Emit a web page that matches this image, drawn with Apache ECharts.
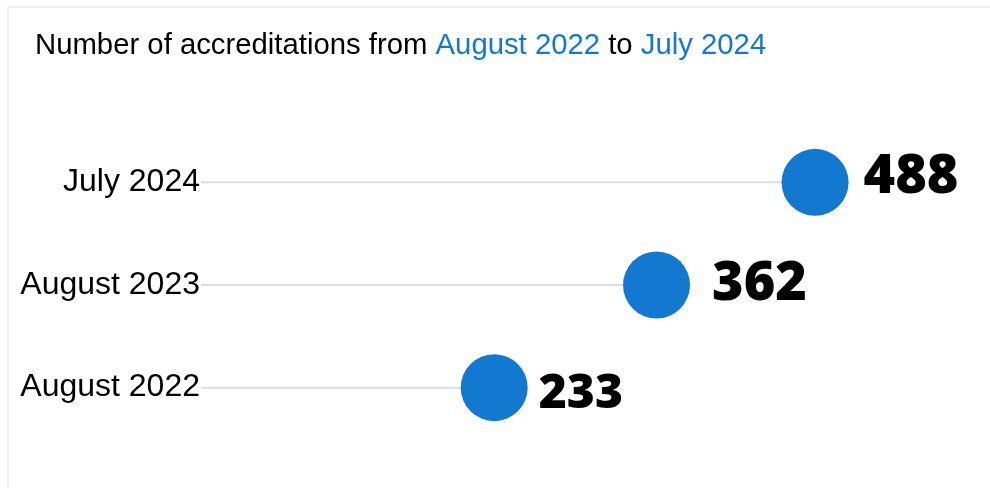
<!DOCTYPE html>
<html>
<head>
<meta charset="utf-8">
<script src="https://cdn.jsdelivr.net/npm/echarts@6/dist/echarts.min.js"></script>
<style>
  html, body { margin: 0; padding: 0; background: #fff; }
  #chart { width: 990px; height: 488px; }
</style>
</head>
<body>
<div id="chart"></div>
<script>
// Periods, bottom to top
const periods = ['August 2022', 'August 2023', 'July 2024'];
// Number of accreditations per period
const accreditations = [233, 362, 488];
// Value axis range
const axisMin = 0;
const axisMax = 600;

// Per-point label styling (size / nudges)
const labelStyles = [
  { fontSize: 48, offset: [-1, 7] },
  { fontSize: 54, offset: [10, 0] },
  { fontSize: 54, offset: [3, -5] }
];

const BLUE = '#1378CF';

const chart = echarts.init(document.getElementById('chart'), null, { renderer: 'canvas' });

chart.setOption({
  animation: false,
  backgroundColor: '#ffffff',
  graphic: [{
    type: 'rect',
    shape: { x: 8, y: 7, width: 1000, height: 500 },
    style: { fill: 'none', stroke: '#ebebeb', lineWidth: 1.5 },
    silent: true
  }],
  title: {
    left: 35,
    top: 31,
    padding: 0,
    text: 'Number of accreditations from {b|August 2022} to {b|July 2024}',
    textStyle: {
      fontFamily: 'Liberation Sans',
      fontSize: 29.3,
      fontWeight: 'normal',
      color: '#000000',
      rich: {
        b: { fontFamily: 'Liberation Sans', fontSize: 29.3, color: BLUE }
      }
    }
  },
  grid: { left: 201, right: 34, top: 131, bottom: 49, containLabel: false },
  xAxis: {
    type: 'value',
    min: axisMin,
    max: axisMax,
    show: false
  },
  yAxis: {
    type: 'category',
    data: periods,
    axisLine: { show: false },
    axisTick: { show: false },
    splitLine: { show: false },
    axisLabel: {
      margin: 1,
      fontFamily: 'Liberation Sans',
      fontSize: 32,
      color: '#000000'
    }
  },
  series: [
    {
      // thin stem from the axis to each dot
      type: 'bar',
      data: accreditations,
      barWidth: 2,
      itemStyle: { color: '#dddddd' },
      silent: true,
      z: 1
    },
    {
      type: 'scatter',
      data: accreditations.map((v, i) => ({
        value: v,
        label: {
          fontSize: labelStyles[i].fontSize,
          offset: labelStyles[i].offset
        }
      })),
      symbol: 'circle',
      symbolSize: 67,
      itemStyle: { color: BLUE, opacity: 1 },
      z: 3,
      label: {
        show: true,
        position: 'right',
        distance: 12,
        fontFamily: 'Open Sans',
        fontWeight: 800,
        color: '#000000',
        opacity: 1,
        formatter: p => String(p.value)
      }
    }
  ]
});
</script>
</body>
</html>
